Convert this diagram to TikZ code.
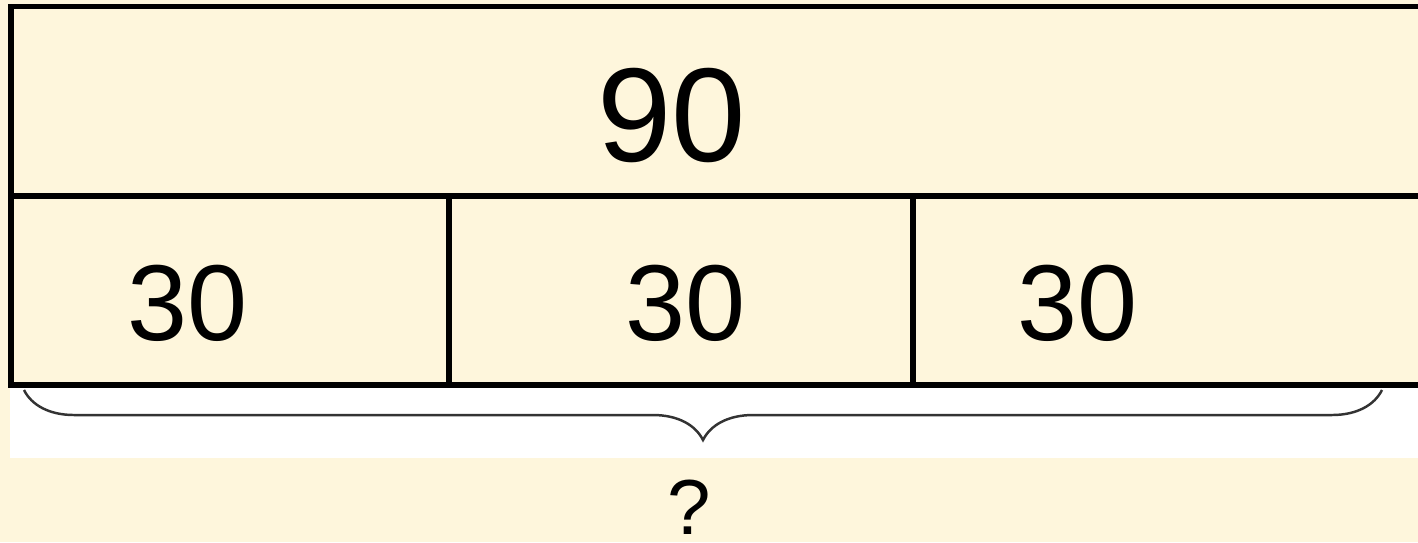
\documentclass[tikz,border=0pt]{standalone}
\usepackage{fontspec}
\setmainfont{Liberation Sans}
\usetikzlibrary{decorations.pathreplacing}
\definecolor{cream}{RGB}{254,246,220}
\tikzset{
  bar/.style={draw=black, line width=1.7pt, fill=cream},
  bignum/.style={font=\fontsize{38}{40}\selectfont, inner sep=0pt},
  partnum/.style={font=\fontsize{30.7}{32}\selectfont, inner sep=0pt},
  asknum/.style={font=\fontsize{22.2}{24}\selectfont, inner sep=0pt, anchor=south},
}
\begin{document}
\begin{tikzpicture}[x=0.01cm, y=-0.01cm]
    \useasboundingbox[fill=cream] (0,0) rectangle (1418,542);
    \clip (0,0) rectangle (1418,542);

    \fill[white] (10,388) rectangle (1418,458);

    \draw[bar] (11,6.5) rectangle (1440,196);
    \draw[bar] (11,196) rectangle (449,385);
    \draw[bar] (449,196) rectangle (913,385);
    \draw[bar] (913,196) rectangle (1440,385);

    \node[bignum] (whole) at (672,115) {90};
    \node[partnum] (partA) at (188,303.5) {30};
    \node[partnum] (partB) at (686,303.5) {30};
    \node[partnum] (partC) at (1078,303.5) {30};

    \coordinate (braceL) at (24,390);
    \coordinate (braceR) at (1382,390);
    \draw[black!80, line width=0.7pt, decorate,
        decoration={brace, amplitude=0.5cm, mirror}] (braceL) -- (braceR);

    \node[asknum] (total) at (689,535) {?};
\end{tikzpicture}
\end{document}
